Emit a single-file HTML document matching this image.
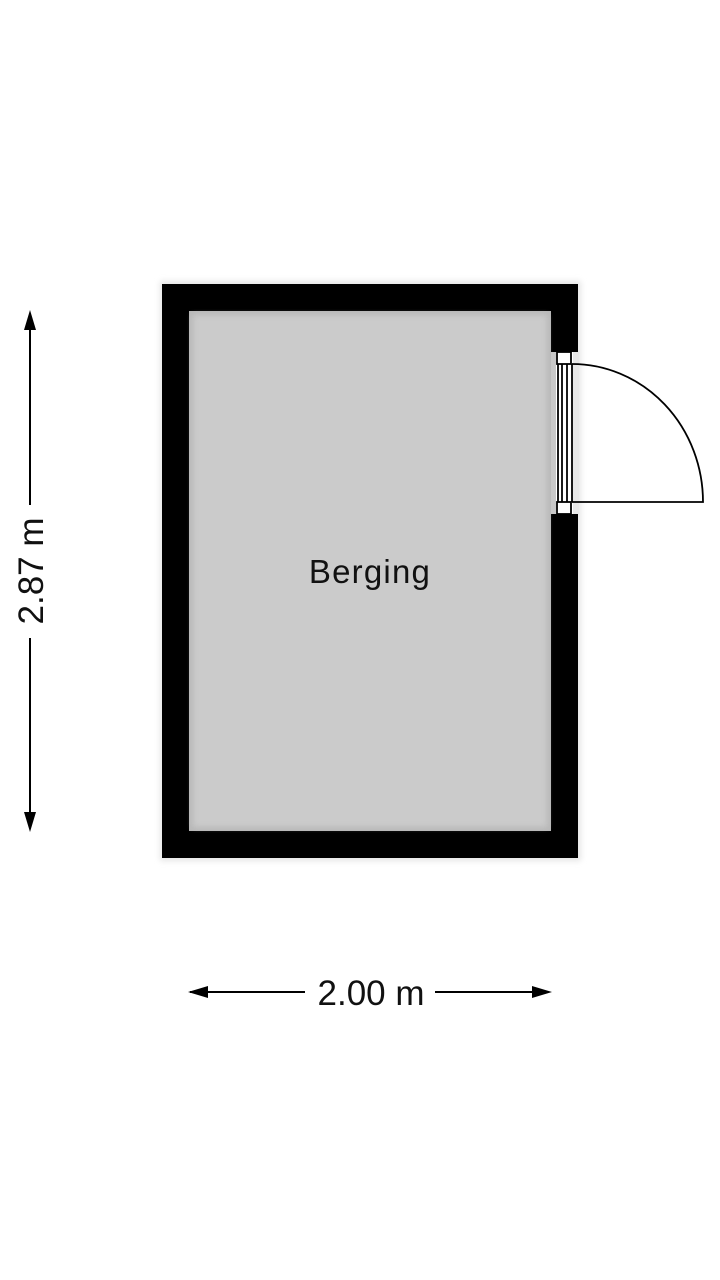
<!DOCTYPE html>
<html><head><meta charset="utf-8"><style>
html,body{margin:0;padding:0;background:#fff;width:720px;height:1280px;overflow:hidden}
</style></head><body>
<svg width="720" height="1280" viewBox="0 0 720 1280" xmlns="http://www.w3.org/2000/svg">
<defs>
<filter id="blur" x="-10%" y="-10%" width="120%" height="120%"><feGaussianBlur stdDeviation="3"/></filter>
</defs>
<rect x="160" y="281" width="421" height="580" fill="#e6e6e6" filter="url(#blur)"/>
<rect x="162" y="284" width="416" height="574" fill="#000"/>
<rect x="189" y="311" width="362" height="520" fill="#b8b8b8"/>
<rect x="193" y="315" width="354" height="512" fill="#cbcbcb" filter="url(#blur)"/>
<rect x="551" y="352" width="28" height="162" fill="#fff"/>
<rect x="551" y="352" width="5" height="162" fill="#c8c8c8"/>
<rect x="573" y="352" width="6" height="162" fill="#e8e8e8"/>
<g stroke="#000" stroke-width="1.8" fill="#fff">
<rect x="557" y="352" width="14" height="12"/>
<rect x="557" y="502" width="14" height="12"/>
<line x1="558" y1="364" x2="558" y2="502"/>
<line x1="562" y1="364" x2="562" y2="502"/>
<line x1="567" y1="364" x2="567" y2="502"/>
<line x1="572" y1="364" x2="572" y2="502"/>
<path d="M572 364 A131 138 0 0 1 703 502 L572 502" fill="none"/>
</g>
<text x="370" y="583" font-family="Liberation Sans, sans-serif" font-size="33" text-anchor="middle" letter-spacing="1.2" fill="#111">Berging</text>
<g stroke="#000" stroke-width="2">
<line x1="30" y1="325" x2="30" y2="505"/>
<line x1="30" y1="638" x2="30" y2="818"/>
<line x1="190" y1="992" x2="305" y2="992"/>
<line x1="435" y1="992" x2="540" y2="992"/>
</g>
<polygon points="30,310 24,330 36,330" fill="#000"/>
<polygon points="30,832 24,812 36,812" fill="#000"/>
<polygon points="188,992 208,986 208,998" fill="#000"/>
<polygon points="552,992 532,986 532,998" fill="#000"/>
<text transform="translate(43,571) rotate(-90)" font-family="Liberation Sans, sans-serif" font-size="35" text-anchor="middle" fill="#111">2.87 m</text>
<text x="371" y="1005" font-family="Liberation Sans, sans-serif" font-size="35" text-anchor="middle" fill="#111">2.00 m</text>
</svg>
</body></html>
